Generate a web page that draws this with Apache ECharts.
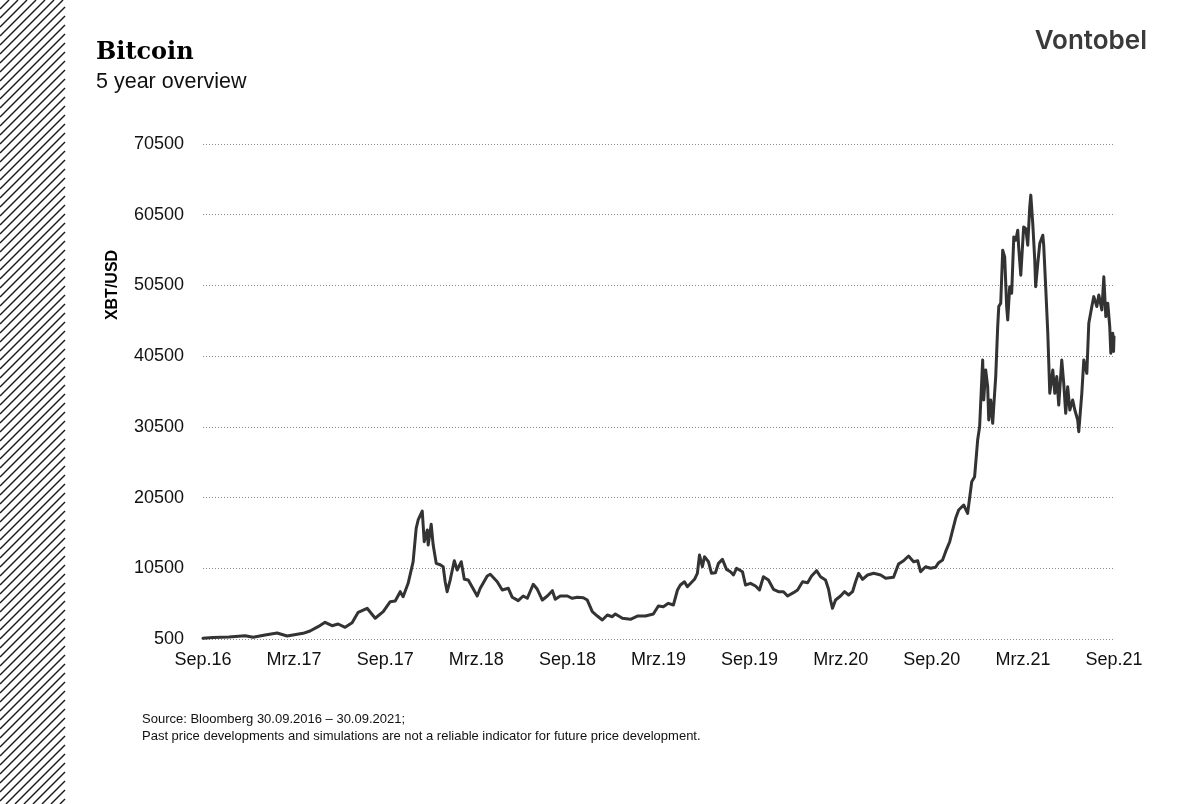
<!DOCTYPE html>
<html>
<head>
<meta charset="utf-8">
<script src="https://cdn.jsdelivr.net/npm/echarts@6/dist/echarts.min.js"></script>
<style>
html,body{margin:0;padding:0;background:#fff;}
#chart{width:1178px;height:804px;}
</style>
</head>
<body>
<div id="chart"></div>
<script>
// x tick labels (one every 6 months, starting 30.09.2016)
const tickLabels = ['Sep.16','Mrz.17','Sep.17','Mrz.18','Sep.18','Mrz.19','Sep.19','Mrz.20','Sep.20','Mrz.21','Sep.21'];
// months elapsed since 30.09.2016
const months = [
0,0.66,1.71,2.77,3.30,4.09,4.88,5.54,6.59,7.05,7.58,8.04,8.50,8.90,9.36,9.82,10.22,10.81,11.34,11.87,
12.33,12.66,12.99,13.18,13.51,13.84,14.04,14.17,14.44,14.57,14.77,14.83,15.03,15.16,15.36,15.62,15.82,15.95,16.08,16.28,
16.55,16.74,17.01,17.21,17.47,18.06,18.26,18.72,18.92,19.38,19.71,20.11,20.37,20.76,21.09,21.36,21.75,22.02,22.35,22.68,
23.01,23.20,23.53,24.00,24.32,24.65,25.05,25.31,25.64,25.97,26.30,26.63,26.96,27.16,27.62,28.15,28.61,29.14,29.66,29.99,
30.32,30.65,30.98,31.25,31.44,31.71,31.90,32.37,32.56,32.70,32.89,33.03,33.16,33.29,33.49,33.75,33.95,34.21,34.48,34.74,
34.94,35.14,35.53,35.73,36.06,36.39,36.65,36.91,37.24,37.57,37.90,38.23,38.50,38.89,39.16,39.49,39.82,40.08,40.41,40.67,
41.00,41.20,41.33,41.46,41.66,41.99,42.25,42.52,42.78,42.98,43.18,43.44,43.77,44.17,44.63,44.96,45.48,45.81,46.14,46.47,
46.80,47.07,47.26,47.59,47.92,48.25,48.45,48.71,48.91,49.18,49.57,49.77,50.10,50.36,50.63,50.82,51.02,51.15,51.35,51.42,
51.55,51.68,51.75,51.88,52.01,52.08,52.21,52.34,52.41,52.54,52.67,52.80,52.93,53.00,53.13,53.26,53.40,53.53,53.66,53.72,
53.86,54.05,54.19,54.32,54.45,54.52,54.65,54.78,54.84,54.98,55.11,55.31,55.37,55.50,55.64,55.77,55.97,56.10,56.23,56.36,
56.56,56.69,56.82,56.95,57.09,57.28,57.42,57.61,57.68,57.88,58.01,58.21,58.34,58.54,58.67,58.87,59.00,59.20,59.33,59.46,
59.59,59.72,59.79,59.92,59.97,60.00
];
// XBT/USD price
const prices = [
600,700,780,970,750,1070,1350,920,1300,1630,2240,2860,2380,2620,2150,2800,4270,4840,3430,4360,
5780,5870,7190,6480,8370,11430,16150,17330,18600,14260,15910,13790,16720,13790,11200,11000,10720,8600,7190,8840,
11570,10260,11430,8940,8840,6580,7670,9410,9650,8600,7430,7670,6400,5920,6580,6260,8240,7530,6010,6580,
7330,6110,6580,6580,6260,6400,6340,6010,4360,3750,3190,3890,3650,4040,3430,3290,3750,3750,4040,5170,
5070,5540,5310,7430,8140,8600,7900,8940,9790,12380,10720,12140,12380,11430,9790,9880,11200,11760,10350,10020,
9550,10500,10020,8140,8370,7990,7430,9310,8840,7530,7190,7190,6580,7050,7430,8600,8460,9410,10160,9310,
8840,7530,6010,4840,6010,6580,7190,6720,7190,8600,9790,8940,9550,9790,9550,9080,9220,11110,11570,12240,
11430,11570,10020,10720,10500,10640,11300,11670,12850,14260,17560,18740,19450,18270,22740,23450,28640,30520,39950,34300,
38540,36180,31470,34300,31000,33350,37610,44680,47510,47980,55480,54540,47510,45620,50330,49390,57360,56890,58310,55950,
51950,58770,58540,56190,61620,63270,59250,54090,50330,53600,56420,57600,56190,50330,43730,35250,38540,35250,37610,33580,
39950,36650,32410,36180,32880,34300,32880,31470,29820,35250,39950,38070,45150,47510,48920,47510,49150,47040,51710,46090,
47980,44680,40910,43730,41150,43260
];

const seriesData = months.map((m, i) => [m, prices[i]]);

// decorative hatch strip on the left
const hatch = [];
const stripW = 65, H = 804, step = 9;
for (let c = 0; c <= stripW + H + step; c += step) {
  const x1 = Math.max(0, c - H), x2 = Math.min(stripW, c);
  if (x2 <= x1) continue;
  hatch.push({
    type: 'line', silent: true,
    shape: {x1: x1, y1: c - x1, x2: x2, y2: c - x2},
    style: {stroke: '#1a1a1a', lineWidth: 1.4}
  });
}

const chart = echarts.init(document.getElementById('chart'), null, {renderer: 'canvas'});
chart.setOption({
  animation: false,
  backgroundColor: '#ffffff',
  grid: {left: 203, right: 64, top: 144, bottom: 165, containLabel: false},
  xAxis: {
    type: 'value', min: 0, max: 60, interval: 6,
    axisLine: {show: false}, axisTick: {show: false}, splitLine: {show: false},
    axisLabel: {
      margin: 12, color: '#111', fontSize: 18, fontFamily: 'Liberation Sans, Arial, sans-serif',
      formatter: v => tickLabels[Math.round(v / 6)] || ''
    }
  },
  yAxis: {
    type: 'value', min: 500, max: 70500, interval: 10000,
    axisLine: {show: false}, axisTick: {show: false},
    splitLine: {show: true, lineStyle: {type: [1, 2], color: '#8a8a8a', width: 1}},
    axisLabel: {margin: 19, color: '#111', fontSize: 18, fontFamily: 'Liberation Sans, Arial, sans-serif',
      formatter: v => String(v)}
  },
  series: [{
    type: 'line', data: seriesData, showSymbol: false, smooth: false,
    lineStyle: {color: '#333333', width: 3, join: 'round', cap: 'round'},
    clip: false
  }],
  graphic: hatch.concat([
    {type: 'text', left: 96, top: 41, style: {text: 'Bitcoin', font: 'bold 24px "DejaVu Serif", serif', fill: '#000'}},
    {type: 'text', left: 96, top: 71, style: {text: '5 year overview', font: '21.5px "Liberation Sans", Arial, sans-serif', fill: '#111'}},
    {type: 'text', right: 31, top: 28, style: {text: 'Vontobel', font: '600 26px Inter, sans-serif', fill: '#3a3a3a'}},
    {type: 'text', x: 113, y: 285, rotation: Math.PI / 2,
      style: {text: 'XBT/USD', font: 'bold 16px "Liberation Sans", Arial, sans-serif', fill: '#000', align: 'center', verticalAlign: 'middle'}},
    {type: 'text', left: 142, top: 711, style: {text: 'Source: Bloomberg 30.09.2016 – 30.09.2021;\nPast price developments and simulations are not a reliable indicator for future price development.', font: '13px "Liberation Sans", Arial, sans-serif', fill: '#111', lineHeight: 17}}
  ])
});
</script>
</body>
</html>
